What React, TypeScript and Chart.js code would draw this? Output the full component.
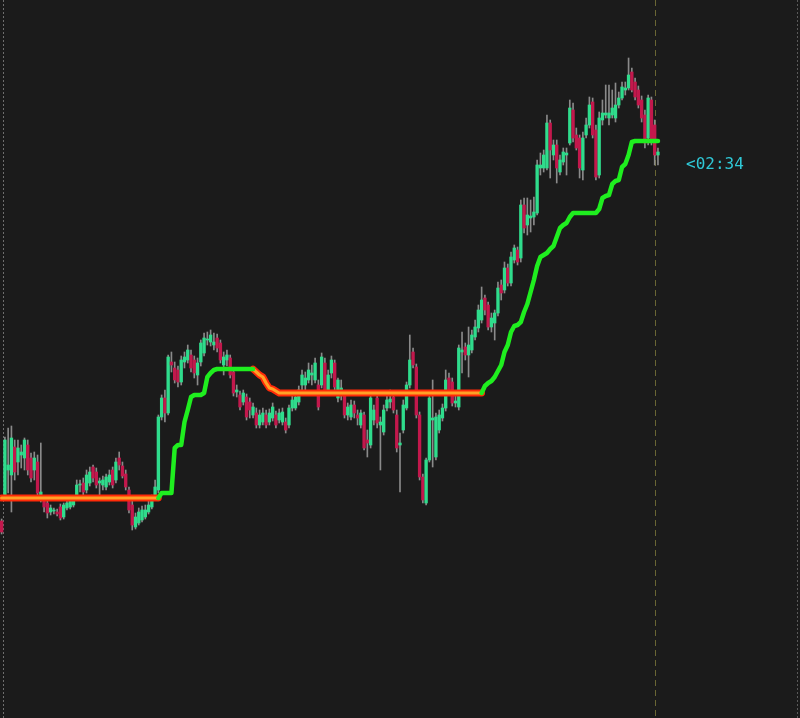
import { useEffect, useRef } from "react";
import { Chart, registerables } from "chart.js";

Chart.register(...registerables);

// total slots on the time axis (the right part is empty future space)
const SLOT_COUNT = 245;
const CLOCK_LABEL = "<02:34";

const opens = [
  279, 303, 330, 325, 353, 338, 345, 342, 355, 342, 330, 338, 305, 300, 297, 288, 289, 288, 293, 283,
  292, 293, 295, 303, 315, 317, 310, 317, 333, 328, 317, 315, 313, 318, 330, 320, 342, 334, 326, 310,
  295, 273, 277, 280, 283, 288, 293, 303, 310, 383, 402, 387, 438, 432, 430, 418, 438, 440, 445, 440,
  425, 438, 447, 460, 458, 455, 462, 457, 435, 440, 442, 428, 408, 405, 398, 403, 398, 385, 387, 375,
  378, 385, 378, 382, 385, 380, 378, 378, 375, 392, 392, 398, 415, 415, 420, 425, 420, 415, 415, 437,
  410, 427, 437, 402, 410, 405, 385, 383, 395, 385, 375, 385, 360, 355, 380, 402, 375, 368, 392, 398,
  403, 385, 355, 370, 392, 415, 448, 433, 385, 323, 297, 340, 380, 343, 370, 382, 392, 422, 418, 397,
  393, 448, 453, 445, 450, 463, 472, 480, 502, 495, 473, 477, 487, 515, 510, 532, 517, 540, 550, 542,
  595, 575, 582, 583, 587, 632, 632, 632, 677, 645, 655, 628, 638, 645, 657, 690, 665, 662, 630, 665,
  675, 698, 670, 625, 680, 685, 682, 685, 682, 695, 702, 710, 712, 728, 718, 710, 700, 685, 662, 700,
  675, 645,
];
const highs = [
  281, 363, 372, 374, 360, 360, 355, 362, 360, 347, 348, 345, 357, 303, 300, 295, 292, 291, 296, 297,
  300, 302, 304, 320, 320, 322, 330, 333, 335, 332, 322, 324, 326, 330, 333, 342, 348, 338, 330, 313,
  300, 287, 292, 294, 295, 300, 305, 320, 385, 405, 410, 445, 448, 438, 434, 444, 448, 455, 450, 444,
  442, 460, 467, 468, 470, 467, 466, 460, 448, 450, 445, 432, 415, 409, 410, 406, 402, 397, 392, 390,
  392, 390, 391, 397, 389, 391, 392, 382, 395, 404, 407, 414, 430, 428, 437, 435, 442, 420, 447, 442,
  430, 444, 440, 422, 420, 408, 397, 400, 399, 390, 390, 388, 370, 405, 395, 405, 383, 395, 405, 410,
  407, 390, 367, 400, 418, 465, 452, 436, 388, 326, 342, 405, 420, 387, 390, 396, 430, 427, 422, 405,
  455, 468, 457, 473, 470, 480, 495, 513, 505, 498, 487, 490, 518, 520, 538, 536, 548, 555, 553, 600,
  602, 602, 600, 603, 640, 647, 650, 685, 680, 660, 660, 645, 652, 652, 700, 697, 672, 665, 668, 682,
  703, 702, 675, 688, 700, 715, 715, 710, 717, 708, 718, 718, 742, 732, 722, 714, 704, 690, 705, 703,
  680, 652,
];
const lows = [
  266, 301, 307, 288, 320, 325, 332, 330, 325, 318, 320, 305, 298, 288, 282, 285, 286, 284, 280, 281,
  290, 291, 293, 300, 308, 305, 307, 314, 318, 312, 305, 310, 310, 315, 312, 317, 330, 322, 310, 287,
  270, 271, 275, 278, 281, 286, 291, 300, 307, 380, 378, 385, 428, 417, 413, 415, 432, 437, 428, 422,
  415, 434, 444, 455, 454, 450, 448, 437, 425, 434, 422, 404, 403, 390, 395, 380, 382, 382, 372, 372,
  375, 372, 375, 379, 372, 377, 375, 367, 372, 389, 390, 395, 410, 410, 417, 415, 417, 390, 412, 407,
  405, 422, 410, 398, 400, 382, 380, 380, 382, 375, 372, 350, 343, 352, 375, 372, 330, 365, 389, 392,
  387, 348, 308, 367, 390, 412, 432, 382, 320, 297, 295, 338, 333, 340, 367, 379, 389, 405, 394, 393,
  390, 427, 440, 423, 447, 460, 468, 477, 485, 470, 468, 460, 484, 500, 507, 514, 514, 537, 535, 538,
  567, 565, 568, 575, 585, 625, 628, 630, 622, 640, 617, 625, 635, 625, 655, 658, 650, 622, 620, 662,
  672, 662, 620, 622, 675, 682, 675, 682, 678, 692, 700, 705, 710, 708, 700, 692, 678, 652, 655, 655,
  635, 635,
];
const closes = [
  268, 360, 335, 362, 328, 352, 348, 360, 330, 322, 342, 307, 308, 293, 287, 292, 290, 286, 282, 295,
  297, 299, 301, 315, 316, 308, 325, 328, 322, 315, 319, 320, 323, 325, 315, 338, 335, 324, 313, 290,
  275, 283, 288, 290, 290, 295, 300, 313, 383, 402, 387, 443, 435, 420, 418, 440, 443, 450, 432, 427,
  437, 457, 462, 461, 465, 458, 452, 440, 443, 445, 425, 407, 410, 393, 407, 383, 390, 393, 375, 385,
  387, 375, 387, 393, 375, 387, 388, 370, 392, 400, 403, 410, 425, 422, 430, 427, 437, 393, 443, 410,
  425, 440, 413, 420, 412, 385, 393, 395, 387, 382, 387, 352, 357, 402, 390, 377, 378, 390, 400, 401,
  390, 352, 357, 395, 415, 440, 435, 385, 323, 300, 340, 402, 382, 383, 385, 392, 420, 408, 397, 399,
  452, 450, 445, 455, 465, 473, 490, 500, 490, 473, 482, 487, 512, 507, 532, 517, 543, 552, 538, 595,
  572, 585, 584, 588, 635, 635, 645, 677, 650, 655, 632, 640, 648, 647, 692, 662, 652, 632, 662, 675,
  695, 665, 623, 682, 687, 687, 687, 692, 695, 702, 713, 712, 725, 710, 703, 695, 682, 657, 702, 658,
  645, 648,
];

// trailing stop level, one value per candle
const stopLevels = [
  302, 302, 302, 302, 302, 302, 302, 302, 302, 302, 302, 302, 302, 302, 302, 302, 302, 302, 302, 302,
  302, 302, 302, 302, 302, 302, 302, 302, 302, 302, 302, 302, 302, 302, 302, 302, 302, 302, 302, 302,
  302, 302, 302, 302, 302, 302, 302, 302, 302, 307, 307, 307, 307, 352, 355, 355, 378, 390, 403, 405,
  405, 405, 407, 423, 427, 430, 431, 431, 431, 431, 431, 431, 431, 431, 431, 431, 431, 431, 428, 425,
  423, 417, 412, 411, 409, 407, 407, 407, 407, 407, 407, 407, 407, 407, 407, 407, 407, 407, 407, 407,
  407, 407, 407, 407, 407, 407, 407, 407, 407, 407, 407, 407, 407, 407, 407, 407, 407, 407, 407, 407,
  407, 407, 407, 407, 407, 407, 407, 407, 407, 407, 407, 407, 407, 407, 407, 407, 407, 407, 407, 407,
  407, 407, 407, 407, 407, 407, 407, 407, 414, 417, 419, 423, 429, 435, 448, 455, 468, 474, 475, 478,
  488, 496, 508, 520, 534, 543, 545, 547, 551, 554, 563, 572, 575, 577, 583, 587, 587, 587, 587, 587,
  587, 587, 587, 591, 602, 604, 605, 616, 619, 620, 633, 636, 645, 658, 659, 659, 659, 659, 659, 659,
  659, 659,
];
// trend runs of the stop: [direction, first candle, last candle]
const stopRuns: [string, number, number][] = [
  ["down", 0, 48],
  ["up", 48, 77],
  ["down", 77, 147],
  ["up", 147, 201],
];

const BG = "#1b1b1b";
const UP = "#2fdc8c";
const DOWN = "#c2184c";
const WICK = "#8a8a8a";
const STOP_UP = "#1fee1f";
const STOP_DOWN_EDGE = "#ff2a08";
const STOP_DOWN_CORE = "#ffa126";

function stopSeries(dir: string) {
  const out: (number | null)[] = stopLevels.map(() => null);
  stopRuns.forEach(([d, a, b]) => {
    if (d !== dir) return;
    for (let i = a; i <= b; i++) out[i] = stopLevels[i];
  });
  return out;
}

const markerPlugin = {
  id: "markers",
  beforeDatasetsDraw(chart: any) {
    const { ctx, chartArea, scales } = chart;
    const xs = scales.x;
    const step = xs.getPixelForValue(1) - xs.getPixelForValue(0);
    ctx.save();
    ctx.lineWidth = 1;
    // session separator after first candle
    const sx = Math.round(xs.getPixelForValue(0) + step / 2) + 0.5;
    ctx.strokeStyle = "#6e6e6e";
    ctx.setLineDash([2, 2]);
    ctx.beginPath();
    ctx.moveTo(sx, chartArea.top);
    ctx.lineTo(sx, chartArea.bottom);
    ctx.stroke();
    // current bar marker
    const cx = Math.round(xs.getPixelForValue(opens.length - 2)) + 0.5;
    ctx.strokeStyle = "#6a6634";
    ctx.setLineDash([6, 4]);
    ctx.beginPath();
    ctx.moveTo(cx, chartArea.top);
    ctx.lineTo(cx, chartArea.bottom);
    ctx.stroke();
    // right border
    const rx = Math.round(chartArea.right - 3) + 0.5;
    ctx.strokeStyle = "#5a5a5a";
    ctx.setLineDash([2, 2]);
    ctx.beginPath();
    ctx.moveTo(rx, chartArea.top);
    ctx.lineTo(rx, chartArea.bottom);
    ctx.stroke();
    ctx.restore();
  },
};

export default function App() {
  const ref = useRef<HTMLCanvasElement>(null);

  useEffect(() => {
    const canvas = ref.current;
    if (!canvas) return;
    const labels = Array.from({ length: SLOT_COUNT }, (_, i) => String(i));
    const wickData = opens.map((_, i) => [lows[i], highs[i]]);
    const bodyData = opens.map((o, i) => [o, closes[i]]);
    const bodyColors = opens.map((o, i) => (closes[i] >= o ? UP : DOWN));

    const chart = new Chart(canvas, {
      type: "bar",
      data: {
        labels,
        datasets: [
          {
            type: "line",
            data: stopSeries("up"),
            borderColor: STOP_UP,
            borderWidth: 4.5,
            pointRadius: 0,
            tension: 0,
            spanGaps: false,
            borderJoinStyle: "round",
            borderCapStyle: "round",
            order: 0,
          } as any,
          {
            type: "line",
            data: stopSeries("down"),
            borderColor: STOP_DOWN_CORE,
            borderWidth: 3.2,
            pointRadius: 0,
            tension: 0,
            spanGaps: false,
            borderJoinStyle: "round",
            borderCapStyle: "round",
            order: 1,
          } as any,
          {
            type: "line",
            data: stopSeries("down"),
            borderColor: STOP_DOWN_EDGE,
            borderWidth: 6.8,
            pointRadius: 0,
            tension: 0,
            spanGaps: false,
            borderJoinStyle: "round",
            borderCapStyle: "round",
            order: 2,
          } as any,
          {
            data: bodyData,
            backgroundColor: bodyColors,
            borderWidth: 0,
            barThickness: 2.7,
            minBarLength: 1,
            grouped: false,
            order: 3,
          } as any,
          {
            data: wickData,
            backgroundColor: WICK,
            borderWidth: 0,
            barThickness: 1,
            grouped: false,
            order: 4,
          } as any,
        ],
      },
      options: {
        animation: false,
        responsive: false,
        maintainAspectRatio: false,
        layout: { padding: 0 },
        plugins: {
          legend: { display: false },
          tooltip: { enabled: false },
        },
        scales: {
          x: { display: false, offset: true, grid: { display: false } },
          y: { display: false, min: 82, max: 800, grid: { display: false } },
        },
      },
      plugins: [markerPlugin],
    });
    return () => chart.destroy();
  }, []);

  return (
    <div
      style={{
        position: "fixed",
        left: 0,
        top: 0,
        width: 800,
        height: 718,
        background: BG,
        overflow: "hidden",
      }}
    >
      <canvas ref={ref} width={800} height={718} style={{ display: "block" }} />
      <div
        style={{
          position: "absolute",
          left: 686,
          top: 155,
          fontFamily: "'DejaVu Sans Mono', monospace",
          fontSize: 16,
          lineHeight: "18px",
          color: "#2fc8d6",
          whiteSpace: "pre",
        }}
      >
        {CLOCK_LABEL}
      </div>
    </div>
  );
}
